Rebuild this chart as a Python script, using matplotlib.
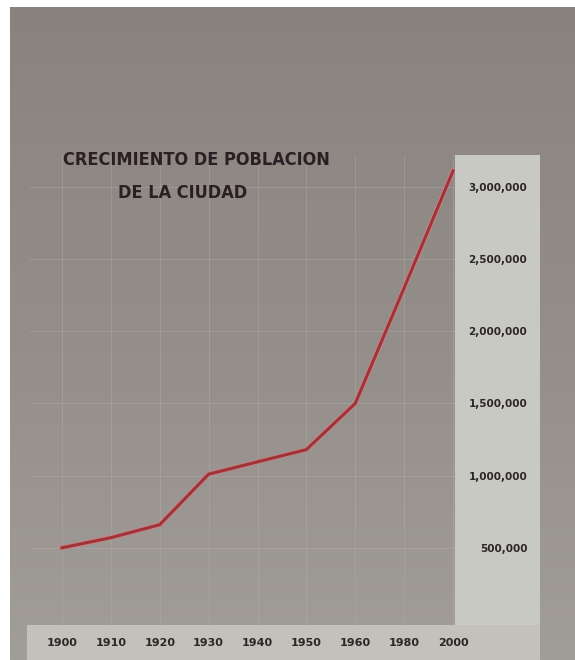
import matplotlib
matplotlib.use('Agg')
import matplotlib.pyplot as plt
import matplotlib.patheffects as pe
from matplotlib.patches import Rectangle
import numpy as np

anni = ['1900', '1910', '1920', '1930', '1940', '1950', '1960', '1980', '2000']
popolazione = [500000, 570000, 660000, 1010000, 1095000, 1180000, 1500000, 2300000, 3110000]
y_ticks = [500000, 1000000, 1500000, 2000000, 2500000, 3000000]
y_labels = ['500,000', '1,000,000', '1,500,000', '2,000,000', '2,500,000', '3,000,000']

W, H = 575, 660
fig = plt.figure(figsize=(W / 100, H / 100), dpi=100, facecolor='white')

# sfondo grigio della foto, con sfumatura verticale
bg = fig.add_axes([10 / W, 0, 1 - 10 / W, 653 / H], zorder=0)
grad = np.linspace(0, 1, 256).reshape(-1, 1)
cmap = matplotlib.colors.LinearSegmentedColormap.from_list('g', ['#8a827f', '#948e8a', '#a19d98'])
bg.imshow(grad, aspect='auto', cmap=cmap, extent=[0, 1, 0, 1], origin='upper')
bg.axis('off')

# pannello chiaro a destra e striscia in basso
fig.patches.append(Rectangle((455 / W, 35 / H), 85 / W, 470 / H, transform=fig.transFigure,
                             facecolor='#c9c9c3', edgecolor='none', zorder=1))
fig.patches.append(Rectangle((27 / W, 0), 513 / W, 35 / H, transform=fig.transFigure,
                             facecolor='#c2c1ba', edgecolor='none', zorder=1))

ax = fig.add_axes([30 / W, 35 / H, 425 / W, 470 / H], zorder=2)
ax.set_facecolor('none')
for s in ax.spines.values():
    s.set_visible(False)

x = np.arange(len(anni))
ax.plot(x, popolazione, color='#9e3439', linewidth=2.2,
        path_effects=[pe.Stroke(linewidth=3.6, foreground='#c98284'), pe.Normal()], zorder=3)

ax.set_xlim(-0.654, 8.04)
ax.set_ylim(-34600, 3220000)

ax.set_xticks(x)
ax.set_xticklabels(anni, fontsize=8, fontweight='bold', color='#2b2628')
ax.tick_params(axis='x', length=0, pad=9)

ax.yaxis.tick_right()
ax.set_yticks(y_ticks)
ax.set_yticklabels(y_labels, fontsize=7.5, fontweight='bold', color='#2b2628', ha='right')
ax.tick_params(axis='y', length=0, pad=52)

ax.grid(color='#b4b0aa', linewidth=0.7, alpha=0.4)

# titolo
fig.text(196 / W, 1 - 160 / H, 'CRECIMIENTO DE POBLACION', ha='center', va='center',
         fontsize=13, fontweight='bold', fontstretch='condensed', color='#2a1f22', zorder=4)
fig.text(183 / W, 1 - 193 / H, 'DE LA CIUDAD', ha='center', va='center',
         fontsize=13, fontweight='bold', fontstretch='condensed', color='#2a1f22', zorder=4)

fig.savefig('out.png', dpi=100, facecolor=fig.get_facecolor())
